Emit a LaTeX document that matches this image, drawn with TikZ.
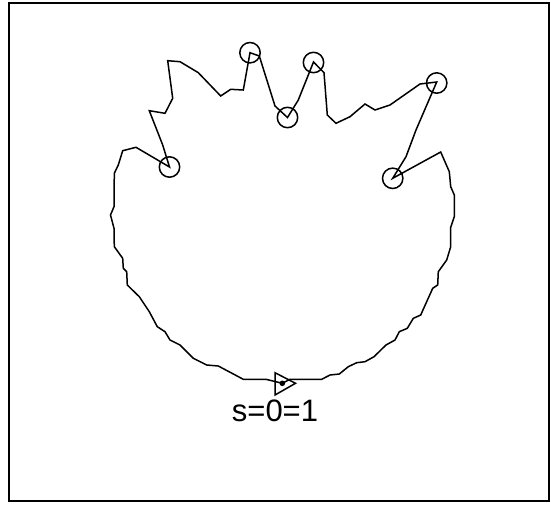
\documentclass[tikz,border=0pt]{standalone}
\usepackage{fontspec}
\setmainfont{Liberation Sans}
\tikzset{
  curve/.style={line width=1.5pt, line join=miter},
  marker/.style={line width=1.5pt},
  frame/.style={line width=1.6pt},
}
\begin{document}
\begin{tikzpicture}[x=1pt,y=-1pt]
\useasboundingbox (0,0) rectangle (551,504);
\draw[frame] (9,3) rectangle (549,501);
\draw[curve] (282.3,383.3) -- (290,379.3) -- (321.7,379.3) -- (330,375) -- (339.3,374) -- (348.3,366.7) -- (356.7,362.7) -- (365,361.7) -- (374,356.7) -- (386,345) -- (395,340) -- (399.3,331.7) -- (407.3,328.3) -- (413.3,318.3) -- (420.7,315) -- (432.7,288.3) -- (437.7,285) -- (438.3,271.7) -- (446.7,260) -- (450.7,246.7) -- (450.5,228) -- (454.3,216.7) -- (454.3,195) -- (450.7,186.7) -- (449.3,171.7) -- (440.7,152) -- (392.7,178.3) -- (406,156.7) -- (416,130) -- (436.7,82) -- (420,84) -- (390,105) -- (375,110) -- (365,104) -- (350,116.7) -- (336,123.3) -- (327.3,115) -- (324,72.7) -- (313.5,62) -- (298.3,100) -- (287.5,117.5) -- (275,106) -- (259.3,56) -- (250,52.7) -- (243.3,90) -- (230.7,89.3) -- (220.7,96) -- (198.3,72.7) -- (180,61.7) -- (167.7,60.7) -- (172.7,98.3) -- (165,113.3) -- (149.3,110.7) -- (162.7,145) -- (169.5,167) -- (136,147.3) -- (122.7,150.7) -- (118.3,165) -- (114.3,173.3) -- (114,206.7) -- (110.5,215) -- (114,228.3) -- (114.3,246.7) -- (122.7,258.3) -- (123.3,268.3) -- (126.7,271.7) -- (127.3,285) -- (139.3,296.7) -- (149.3,311.7) -- (157.3,326.7) -- (165,331.7) -- (170,340) -- (180,345) -- (193.3,358.3) -- (206.7,365) -- (218.3,366) -- (243.3,379.3) -- (266,379.3) -- cycle;
\foreach \p in {(169.5,167),(250,52.7),(287.5,117.5),(313.5,62.5),(436.7,83),(392.7,178.3)}
  \draw[marker] \p circle (10.2);
\draw[marker] (275,372.7) -- (275,395) -- (295.5,383.3) -- cycle;
\fill (282.3,383.3) circle (2.8);
\node[inner sep=0pt, anchor=base] (label) at (275,421) {\fontsize{31}{37}\selectfont s=0=1};
\end{tikzpicture}
\end{document}
